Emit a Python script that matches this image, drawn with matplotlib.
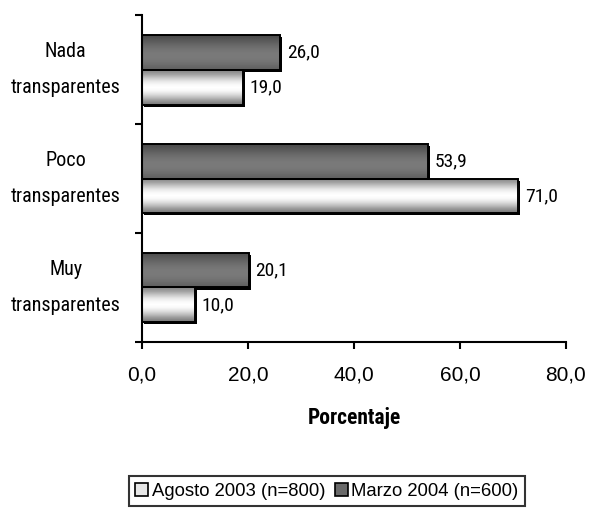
import numpy as np
import matplotlib
matplotlib.use("Agg")
import matplotlib.pyplot as plt
from matplotlib.patches import Patch
import matplotlib.patheffects as pe

categories = ["Nada\ntransparentes", "Poco\ntransparentes", "Muy\ntransparentes"]
marzo_2004 = [26.0, 53.9, 20.1]
agosto_2003 = [19.0, 71.0, 10.0]
series_labels = ["Agosto 2003 (n=800)", "Marzo 2004 (n=600)"]
xticks = [0, 20, 40, 60, 80]

narrow = ["Roboto Condensed", "PT Sans Narrow", "DejaVu Sans"]
plt.rcParams["font.family"] = ["Liberation Sans", "DejaVu Sans"]

fig = plt.figure(figsize=(5.9, 5.08), dpi=100)
ax = fig.add_axes([0.2407, 0.327, 0.7186, 0.643])

pos = np.arange(len(categories))[::-1]  # top to bottom
h = 0.32

# vertical gray profiles (top -> bottom)
dark_prof = [0.30, 0.34, 0.38, 0.42, 0.45, 0.47, 0.48, 0.47, 0.45, 0.42, 0.38]
light_prof = [0.55, 0.65, 0.78, 0.90, 0.97, 1.0, 0.97, 0.88, 0.76, 0.62, 0.50]

def gradient_bars(ypos, vals, prof):
    # black drop shadow underneath
    ax.barh(ypos, vals, height=h, color="black", linewidth=0, zorder=1,
            path_effects=[pe.SimplePatchShadow(offset=(1.5, -1.5), shadow_rgbFace="black", alpha=1)])
    bars = ax.barh(ypos, vals, height=h, color="none", edgecolor="black",
                   linewidth=1.4, zorder=3)
    for b in bars:
        x0, y0, w, hh = b.get_x(), b.get_y(), b.get_width(), b.get_height()
        arr = np.array(prof)[:, None]
        im = ax.imshow(arr, cmap="gray", vmin=0, vmax=1, aspect="auto",
                       extent=[x0, x0 + w, y0, y0 + hh], origin="upper",
                       interpolation="bilinear", zorder=2)
        im.set_clip_path(b)
    return bars

bd = gradient_bars(pos + h / 2, marzo_2004, dark_prof)
bl = gradient_bars(pos - h / 2, agosto_2003, light_prof)

for bars, vals in ((bd, marzo_2004), (bl, agosto_2003)):
    for b, v in zip(bars, vals):
        ax.text(b.get_width() + 1.3, b.get_y() + b.get_height() / 2,
                f"{v:.1f}".replace(".", ","), va="center", ha="left",
                fontsize=14, family=narrow)

ax.set_xlim(0, 80)
ax.set_ylim(-0.5, len(categories) - 0.5)
ax.set_xticks(xticks)
ax.set_xticklabels([f"{t:.1f}".replace(".", ",") for t in xticks], fontsize=15)
ax.set_yticks(pos)
ax.set_yticklabels(categories, fontsize=14.5, family=narrow, ha="center",
                   va="center", linespacing=2.1)
ax.tick_params(axis="y", length=0, pad=55)
ax.set_yticks(np.arange(-0.5, len(categories), 1.0), minor=True)
ax.tick_params(axis="y", which="minor", length=5, width=1.5, direction="out")
ax.tick_params(axis="x", length=5, width=1.5, direction="out", pad=12)
for s in ["top", "right"]:
    ax.spines[s].set_visible(False)
for s in ["left", "bottom"]:
    ax.spines[s].set_linewidth(1.5)

ax.set_xlabel("Porcentaje", fontsize=15.5, fontweight="bold", family=narrow,
              labelpad=16)

handles = [Patch(facecolor="#e8e8e8", edgecolor="black", linewidth=1.2),
           Patch(facecolor="#6a6a6a", edgecolor="black", linewidth=1.2)]
leg = fig.legend(handles, series_labels, loc="lower center", ncol=2,
                 bbox_to_anchor=(0.554, 0.0), fontsize=13.3, frameon=True,
                 fancybox=False, edgecolor="black", handlelength=0.7,
                 handleheight=0.7, handletextpad=0.2, columnspacing=0.5,
                 borderpad=0.35, borderaxespad=0.1)
leg.get_frame().set_linewidth(1.5)

fig.savefig("out.png", dpi=100)
